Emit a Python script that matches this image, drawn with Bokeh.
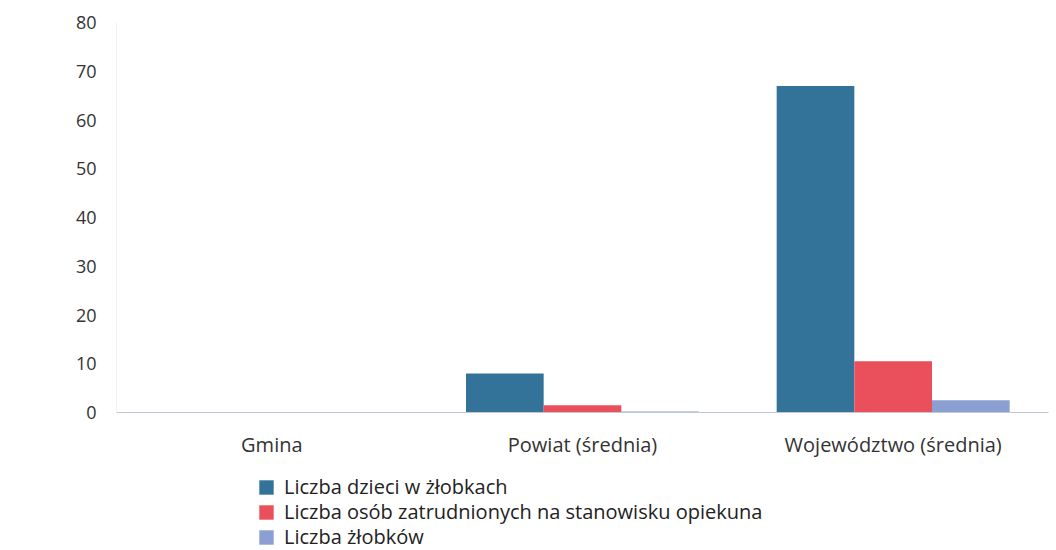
from bokeh.plotting import figure
from bokeh.layouts import column
from bokeh.models import Legend, LegendItem, Range1d, FactorRange, SingleIntervalTicker, ColumnDataSource
from bokeh.transform import dodge
from bokeh.embed import file_html
from bokeh.resources import INLINE

categories = ["Gmina", "Powiat (średnia)", "Województwo (średnia)"]
dzieci = [0, 8, 67]
opiekunowie = [0, 1.5, 10.5]
zlobki = [0, 0.2, 2.5]
series_names = ["Liczba dzieci w żłobkach",
                "Liczba osób zatrudnionych na stanowisku opiekuna",
                "Liczba żłobków"]
colors = ["#33739a", "#ea4f5c", "#8c9fd2"]

src = ColumnDataSource(dict(cat=categories, a=dzieci, b=opiekunowie, c=zlobki))

p = figure(x_range=FactorRange(*categories), y_range=Range1d(0, 80),
           width=1050, height=460,
           output_backend="svg", toolbar_location=None,
           min_border_left=116, min_border_right=2, min_border_top=22,
           min_border_bottom=47, outline_line_color=None)

for off, col, c in zip([-0.25, 0.0, 0.25], ["a", "b", "c"], colors):
    p.vbar(x=dodge("cat", off, range=p.x_range), top=col, width=0.25,
           source=src, fill_color=c, line_color=None)

p.xgrid.grid_line_color = None
p.ygrid.grid_line_color = None

p.yaxis.ticker = SingleIntervalTicker(interval=10)
p.yaxis.axis_line_color = "#f0f0f0"
p.yaxis.major_tick_line_color = None
p.yaxis.minor_tick_line_color = None
p.yaxis.major_label_text_font = "Open Sans"
p.yaxis.major_label_text_font_size = "18px"
p.yaxis.major_label_text_color = "#333333"
p.yaxis.major_label_standoff = 14

p.xaxis.axis_line_color = "#c4c6d4"
p.xaxis.major_tick_line_color = None
p.xaxis.minor_tick_line_color = None
p.xaxis.major_label_text_font = "Open Sans"
p.xaxis.major_label_text_font_size = "20px"
p.xaxis.major_label_text_color = "#333333"
p.xaxis.major_label_standoff = 12

# legend in a separate strip below the chart
lg = figure(width=1050, height=90, x_range=Range1d(0, 1), y_range=Range1d(0, 1),
            output_backend="svg", toolbar_location=None,
            x_axis_location=None, y_axis_location=None,
            min_border=0, min_border_left=0, min_border_right=0,
            min_border_top=0, min_border_bottom=0, outline_line_color=None,
            border_fill_color=None, background_fill_color=None)
lg.grid.grid_line_color = None
hidden = ColumnDataSource(dict(x=[0.5], top=[0], bottom=[0]))
for i, (name, c) in enumerate(zip(series_names, colors)):
    r = lg.vbar(x="x", top="top", bottom="bottom", width=0.0001, source=hidden,
                fill_color=c, line_color=None)
    leg = Legend(items=[LegendItem(label=name, renderers=[r])],
                 location=(141, 50 - 25 * i), orientation="vertical",
                 label_text_font="Open Sans", label_text_font_size="20px",
                 label_text_color="#222222", label_height=24,
                 glyph_width=18, glyph_height=18, spacing=0, padding=0,
                 label_standoff=9, border_line_color=None, background_fill_alpha=0,
                 margin=0)
    lg.add_layout(leg, "center")

layout = column(p, lg, spacing=0)
open("out.html", "w").write(file_html(layout, INLINE))
